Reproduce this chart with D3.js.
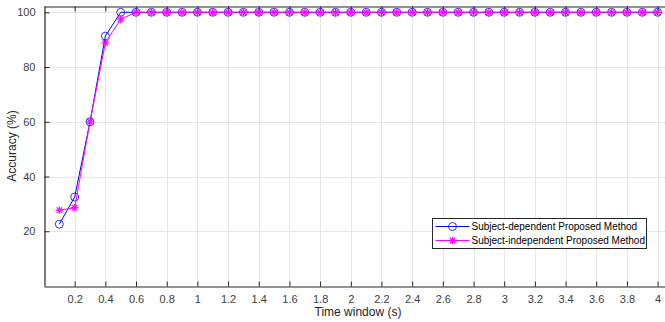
<!DOCTYPE html>
<html>
<head>
<meta charset="utf-8">
<script src="https://cdn.jsdelivr.net/npm/d3@7"></script>
<style>
	body { margin: 0; background: #fff; }
	svg { display: block; font-family: "Liberation Sans", Arial, sans-serif; }
	.grid line { stroke: #e6e6e6; stroke-width: 1; }
	.axis text { fill: #404040; font-size: 11px; }
	.axis path, .axis line { stroke: #262626; }
</style>
</head>
<body>
<script>
var timeWindows = [0.1, 0.2, 0.3, 0.4, 0.5, 0.6, 0.7, 0.8, 0.9, 1.0,
		1.1, 1.2, 1.3, 1.4, 1.5, 1.6, 1.7, 1.8, 1.9, 2.0,
		2.1, 2.2, 2.3, 2.4, 2.5, 2.6, 2.7, 2.8, 2.9, 3.0,
		3.1, 3.2, 3.3, 3.4, 3.5, 3.6, 3.7, 3.8, 3.9, 4.0];

var dependentAcc = [22.6, 32.5, 60, 91.3, 100, 100, 100, 100, 100, 100,
		100, 100, 100, 100, 100, 100, 100, 100, 100, 100,
		100, 100, 100, 100, 100, 100, 100, 100, 100, 100,
		100, 100, 100, 100, 100, 100, 100, 100, 100, 100];

var independentAcc = [27.7, 28.6, 60, 88.8, 97.5, 100, 100, 100, 100, 100,
		100, 100, 100, 100, 100, 100, 100, 100, 100, 100,
		100, 100, 100, 100, 100, 100, 100, 100, 100, 100,
		100, 100, 100, 100, 100, 100, 100, 100, 100, 100];

var xTicks = [0.2, 0.4, 0.6, 0.8, 1, 1.2, 1.4, 1.6, 1.8, 2, 2.2, 2.4, 2.6, 2.8, 3, 3.2, 3.4, 3.6, 3.8, 4];
var yTicks = [20, 40, 60, 80, 100];

var seriesNames = ["Subject-dependent Proposed Method", "Subject-independent Proposed Method"];

var W = 665, H = 322;
var margin = {top: 6, left: 44, bottom: 36};

var svg = d3.select("body").append("svg")
	.attr("width", W)
	.attr("height", H);

var x = d3.scaleLinear().domain([0, 4.1]).range([margin.left, margin.left + 4.1 * 153.4]),
		y = d3.scaleLinear().domain([0, 102.3]).range([H - margin.bottom, margin.top]);

var x0 = x.range()[0], x1 = x.range()[1],
		y0 = y.range()[0], y1 = y.range()[1];

// grid
var grid = svg.append("g").attr("class", "grid");
grid.selectAll(".gx").data(xTicks).enter().append("line")
	.attr("x1", function(d) { return Math.round(x(d)) + 0.5; })
	.attr("x2", function(d) { return Math.round(x(d)) + 0.5; })
	.attr("y1", y1).attr("y2", y0);
grid.selectAll(".gy").data(yTicks).enter().append("line")
	.attr("y1", function(d) { return Math.round(y(d)) + 0.5; })
	.attr("y2", function(d) { return Math.round(y(d)) + 0.5; })
	.attr("x1", x0).attr("x2", x1);

// axes (MATLAB box style, ticks inside)
var xAxis = d3.axisBottom(x).tickValues(xTicks).tickSizeInner(-5).tickSizeOuter(0).tickPadding(9)
		.tickFormat(function(d) { return d3.format("~g")(d); });
var xAxisTop = d3.axisTop(x).tickValues(xTicks).tickSizeInner(-5).tickSizeOuter(0).tickFormat("");
var yAxis = d3.axisLeft(y).tickValues(yTicks).tickSizeInner(-5).tickSizeOuter(0).tickPadding(9);

svg.append("g")
	.attr("class", "axis axis--x")
	.attr("transform", "translate(0," + (Math.round(y0) + 0.5) + ")")
	.call(xAxis);
svg.append("g")
	.attr("class", "axis axis--top")
	.attr("transform", "translate(0," + (Math.round(y1) + 0.5) + ")")
	.call(xAxisTop);
svg.append("g")
	.attr("class", "axis axis--y")
	.attr("transform", "translate(" + (Math.round(x0) + 0.5) + ",0)")
	.call(yAxis);

svg.selectAll(".axis .domain").attr("stroke-width", 1.2);

// axis titles
svg.append("text")
	.attr("x", 358).attr("y", 316)
	.attr("text-anchor", "middle")
	.attr("fill", "#262626")
	.style("font-size", "12px")
	.text("Time window (s)");
svg.append("text")
	.attr("transform", "translate(16," + ((y0 + y1) / 2) + ") rotate(-90)")
	.attr("text-anchor", "middle")
	.attr("fill", "#262626")
	.style("font-size", "12px")
	.text("Accuracy (%)");

function toPoints(values) {
	return timeWindows.map(function(t, i) { return {t: t, v: values[i]}; });
}

var line = d3.line()
	.x(function(d) { return x(d.t); })
	.y(function(d) { return y(d.v); });

function asterisk(sel, r) {
	var a = r * 0.72;
	sel.append("line").attr("x1", -r).attr("x2", r).attr("y1", 0).attr("y2", 0);
	sel.append("line").attr("x1", 0).attr("x2", 0).attr("y1", -r).attr("y2", r);
	sel.append("line").attr("x1", -a).attr("x2", a).attr("y1", -a).attr("y2", a);
	sel.append("line").attr("x1", -a).attr("x2", a).attr("y1", a).attr("y2", -a);
}

var dep = toPoints(dependentAcc),
		ind = toPoints(independentAcc);

var plot = svg.append("g");

plot.append("path").datum(dep)
	.attr("fill", "none").attr("stroke", "#0000ff").attr("stroke-width", 1)
	.attr("d", line);
plot.selectAll(".c").data(dep).enter().append("circle")
	.attr("cx", function(d) { return x(d.t); })
	.attr("cy", function(d) { return y(d.v); })
	.attr("r", 4)
	.attr("fill", "none").attr("stroke", "#0000ff").attr("stroke-width", 0.8);

plot.append("path").datum(ind)
	.attr("fill", "none").attr("stroke", "#ff00ff").attr("stroke-width", 1)
	.attr("d", line);
plot.selectAll(".s").data(ind).enter().append("g")
	.attr("transform", function(d) { return "translate(" + x(d.t) + "," + y(d.v) + ")"; })
	.attr("stroke", "#ff00ff").attr("stroke-width", 1.2)
	.each(function() { asterisk(d3.select(this), 3.8); });

// legend
var legend = svg.append("g").attr("transform", "translate(432.5,218.5)");
legend.append("rect")
	.attr("width", 214).attr("height", 30)
	.attr("fill", "#fff").attr("stroke", "#262626").attr("stroke-width", 1);

var rows = legend.selectAll(".row").data(seriesNames).enter().append("g")
	.attr("transform", function(d, i) { return "translate(0," + (8 + i * 14) + ")"; });
rows.append("line")
	.attr("x1", 3).attr("x2", 37).attr("y1", 0).attr("y2", 0)
	.attr("stroke", function(d, i) { return i ? "#ff00ff" : "#0000ff"; });
rows.filter(function(d, i) { return i === 0; }).append("circle")
	.attr("cx", 20).attr("cy", 0).attr("r", 4)
	.attr("fill", "none").attr("stroke", "#0000ff").attr("stroke-width", 0.8);
rows.filter(function(d, i) { return i === 1; }).append("g")
	.attr("transform", "translate(20,0)")
	.attr("stroke", "#ff00ff").attr("stroke-width", 1.2)
	.each(function() { asterisk(d3.select(this), 3.8); });
rows.append("text")
	.attr("x", 39).attr("y", 0).attr("dy", "0.35em")
	.attr("fill", "#000")
	.style("font-size", "10px")
	.text(function(d) { return d; });
</script>
</body>
</html>
